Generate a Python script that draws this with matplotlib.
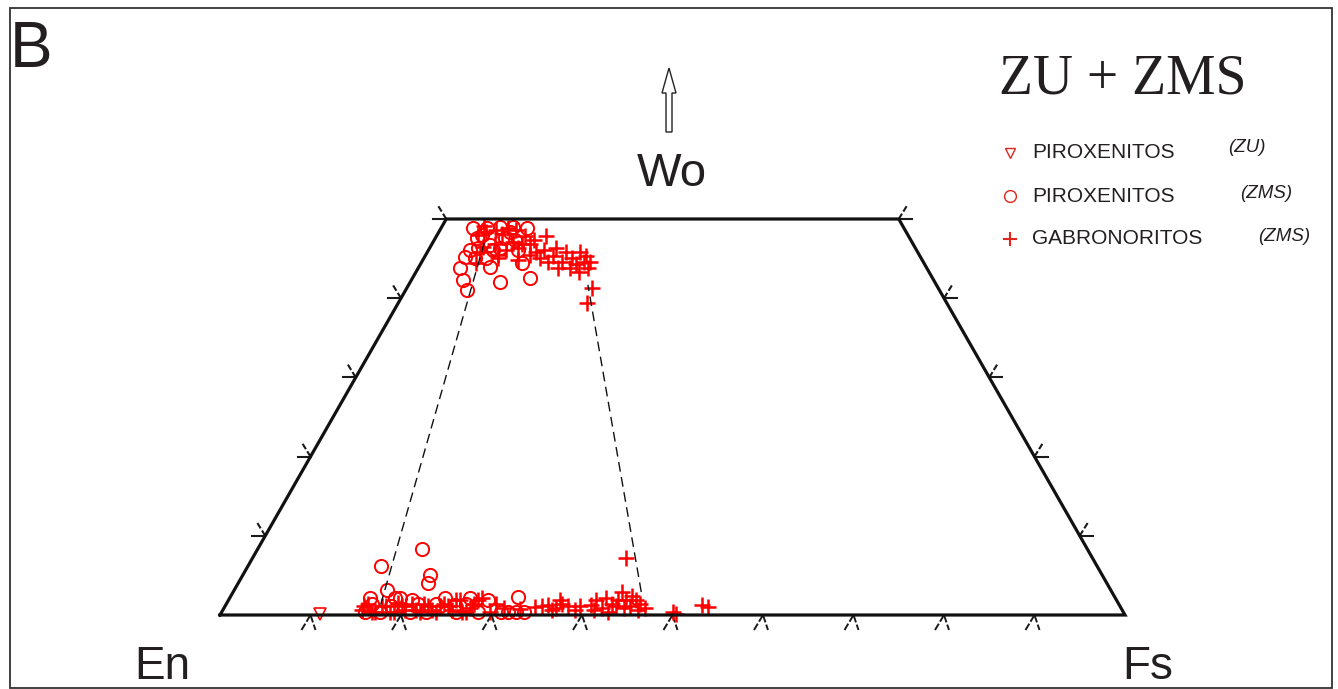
import matplotlib
matplotlib.use("Agg")
import matplotlib.pyplot as plt
from matplotlib.patches import Rectangle, Polygon
import numpy as np

# ---------------- data (Fs %, Wo %) ----------------
circ_fs = [3.5, 5.0, 6.4, 7.9, 9.5, 4.6, 5.0, 6.5, 7.1, 7.7, 9.0, 9.9, 4.6, 4.5, 5.6, 4.6, 5.7, 6.8,
           7.9, 9.9, 13.0, 11.2, 5.35, 7.8, 7.8, 6.85,
           14.7, 18.2, 20.7, 21.0, 16.8, 31.8,
           15.8, 16.1, 17.5, 18.4, 18.8, 20.8, 21.2, 22.6, 23.2, 23.8, 25.9, 26.5, 28.3, 30.8,
           31.6, 32.5, 33.4, 15.5, 18.3, 20.3, 25.3, 28.7, 26.6]
circ_wo = [48.9, 48.9, 49.0, 49.0, 48.9, 47.6, 48.0, 46.7, 46.1, 47.6, 47.3, 46.1, 46.1, 45.2, 45.1, 43.8, 42.3, 41.0,
           43.9, 42.0, 42.6, 44.4, 46.3, 46.3, 48.4, 45.1,
           6.2, 8.3, 5.1, 4.0, 3.2, 2.3,
           0.4, 1.4, 0.4, 1.1, 2.2, 0.4, 1.4, 0.4, 1.4, 2.2, 0.4, 1.4, 0.4, 0.4,
           0.4, 0.4, 0.4, 2.1, 2.1, 1.9, 1.3, 1.9, 2.1]

plus_fs = [4.5, 5.2, 6.9, 7.1, 7.4, 8.8, 9.8, 9.7, 10.9, 12.0, 12.1, 12.8, 14.1, 14.0, 15.5, 15.3, 16.4,
           17.2, 16.9, 17.9, 18.8, 18.6, 18.0, 20.5, 20.9, 5.8, 8.0, 6.0, 10.5, 11.5,
           4.6, 6.2, 8.4, 10.0, 11.05, 12.8, 13.9, 8.55, 8.2, 5.8, 15.4, 16.8, 17.8,
           15.4, 15.7, 16.9, 17.3, 18.6, 18.9, 20.1, 20.5, 21.9, 22.4, 23.7, 24.1, 25.3, 25.6, 27.0,
           27.4, 27.9, 29.6, 32.8, 34.3, 35.6, 36.7, 37.1, 37.9, 38.9, 40.3, 40.6, 41.8, 41.6, 42.6,
           43.0, 43.0, 43.9, 44.7, 45.0, 45.7, 46.5, 41.3, 49.8, 50.3, 52.6, 53.4,
           24.6, 25.1, 27.2, 27.6, 29.8, 30.9, 35.0, 36.4, 36.6, 39.2, 41.0, 42.7, 43.2, 44.2, 44.3,
           45.9, 15.4, 16.6, 17.8, 19.0, 19.6, 21.4, 21.8, 23.1, 23.8, 26.5]
plus_wo = [48.0, 48.4, 46.9, 48.1, 48.9, 47.1, 46.3, 47.9, 46.8, 45.8, 47.9, 46.1, 45.3, 46.3, 44.6, 45.8, 45.1,
           44.3, 45.8, 44.6, 43.8, 44.6, 43.3, 41.3, 39.4, 46.5, 45.5, 44.5, 44.8, 45.5,
           49.1, 48.6, 48.6, 46.8, 47.3, 45.1, 44.6, 46.1, 45.1, 45.8, 43.8, 43.8, 45.3,
           0.6, 1.4, 0.4, 1.1, 0.4, 1.5, 0.6, 1.4, 0.4, 1.1, 0.4, 1.4, 0.6, 1.9, 0.4,
           1.4, 2.2, 0.4, 0.8, 1.0, 1.3, 0.9, 1.4, 1.1, 0.6, 1.3, 1.9, 0.9, 2.2, 1.4,
           1.9, 2.9, 1.9, 1.1, 1.9, 1.4, 0.9, 7.2, 0.4, 0.1, 1.3, 1.0,
           1.1, 1.9, 0.9, 1.9, 1.4, 0.9, 1.1, 0.6, 1.9, 1.1, 0.6, 0.4, 1.1, 0.9, 2.4,
           0.6, 1.1, 0.4, 1.1, 0.4, 1.1, 0.6, 1.4, 0.6, 1.1, 0.4]

tri_fs = [11.0]
tri_wo = [0.1]

# tie lines (Fs, Wo) endpoints
tie_left_fs = [17.1, 5.6]
tie_left_wo = [1.3, 47.4]
tie_right_fs = [45.1, 19.8]
tie_right_wo = [2.9, 41.7]

tick_vals = [10, 20, 30, 40, 50, 60, 70, 80, 90]
side_ticks = [10, 20, 30, 40, 50]

legend_labels = ["PIROXENITOS", "PIROXENITOS", "GABRONORITOS"]
legend_groups = ["(ZU)", "(ZMS)", "(ZMS)"]

# ---------------- figure ----------------
W, H = 1338, 689
fig = plt.figure(figsize=(W / 100, H / 100), dpi=100)
ax = fig.add_axes([0, 0, 1, 1])
ax.set_axis_off()

SX, SY = 9.05, 7.92  # pixels per unit
X0, Y0 = 220, 615
ax.set_xlim(-X0 / SX, (W - X0) / SX)
ax.set_ylim(-(H - Y0) / SY, Y0 / SY)


def tern(fs, wo):
    fs = np.asarray(fs, float)
    wo = np.asarray(wo, float)
    return fs + wo / 2, wo


def px(dx_px, dy_px):
    """convert pixel offset (down positive) to data offset"""
    return dx_px / SX, -dy_px / SY


# quadrilateral
qx, qy = tern([0, 100, 50, 0, 0], [0, 0, 50, 50, 0])
ax.plot(qx, qy, color="#111111", lw=2.3, solid_joinstyle="miter", zorder=6)

tickc = "#1a1a1a"
# bottom ticks
for t in tick_vals:
    x, y = tern(t, 0)
    for dx in (-9, 5):
        ddx, ddy = px(dx, 15)
        ax.plot([x, x + ddx], [y, y + ddy], color=tickc, lw=1.4, ls=(0, (4, 1.2)), zorder=2)

# side ticks
for w in side_ticks:
    # left side
    x, y = tern(0, w)
    ddx, ddy = px(-13, 0)
    ax.plot([x, x + ddx], [y, y], color=tickc, lw=1.5, zorder=2)
    ddx, ddy = px(-8, -13)
    ax.plot([x, x + ddx], [y, y + ddy], color=tickc, lw=1.5, ls=(0, (3, 1.2)), zorder=2)
    # right side
    x, y = tern(100 - w, w)
    ddx, ddy = px(13, 0)
    ax.plot([x, x + ddx], [y, y], color=tickc, lw=1.5, zorder=2)
    ddx, ddy = px(8, -13)
    ax.plot([x, x + ddx], [y, y + ddy], color=tickc, lw=1.5, ls=(0, (3, 1.2)), zorder=2)

# tie lines
for fs, wo in ((tie_left_fs, tie_left_wo), (tie_right_fs, tie_right_wo)):
    x, y = tern(fs, wo)
    ax.plot(x, y, color="#111111", lw=1.0, ls=(0, (7, 4)), zorder=5)

# data points
red = "#ff0000"
x, y = tern(circ_fs, circ_wo)
ax.plot(x, y, ls="none", marker="o", ms=9.5, mfc="none", mec=red, mew=1.4, zorder=4)
x, y = tern(plus_fs, plus_wo)
ax.plot(x, y, ls="none", marker="+", ms=12, mec=red, mew=1.8, zorder=4)
x, y = tern(tri_fs, tri_wo)
ax.plot(x, y, ls="none", marker="v", ms=8, mfc="none", mec=red, mew=1.2, zorder=4)

# arrow (hollow) above Wo
ax_, ay_ = (669 - X0) / SX, (Y0 - 132) / SY
hl = 25 / SY
sw = 3 / SX
hw = 7 / SX
top = (Y0 - 68) / SY
verts = [(ax_ - sw, ay_), (ax_ + sw, ay_), (ax_ + sw, top - hl), (ax_ + hw, top - hl),
         (ax_, top), (ax_ - hw, top - hl), (ax_ - sw, top - hl)]
ax.add_patch(Polygon(verts, closed=True, fill=False, ec="#222222", lw=1.0, zorder=3))

# labels
sans = ["Liberation Sans", "DejaVu Sans"]
txtc = "#231f20"


def ftext(xp, yp, s, **kw):
    fig.text(xp / W, 1 - yp / H, s, **kw)


ftext(10, 50, "B", fontsize=46, family=sans, color=txtc, va="center", ha="left")
ftext(672, 174, "Wo", fontsize=34, family=sans, color=txtc, va="center", ha="center")
ftext(162, 667, "En", fontsize=33, family=sans, color=txtc, va="center", ha="center")
ftext(1148, 667, "Fs", fontsize=33, family=sans, color=txtc, va="center", ha="center")
ftext(1123, 80, "ZU + ZMS", fontsize=40, family=["Liberation Serif", "DejaVu Serif"],
      color=txtc, va="center", ha="center")

# legend
leg_y = [153, 196, 239]
leg_mk = [dict(marker="v", ms=7.5, mfc="none", mew=1.0),
          dict(marker="o", ms=8.5, mfc="none", mew=1.0),
          dict(marker="+", ms=10, mew=1.5)]
grp_x = [1228, 1240, 1258]
grp_dy = [-6, -3, -3]
for i in range(3):
    mx, my = (1010 - X0) / SX, (Y0 - leg_y[i]) / SY
    ax.plot([mx], [my], ls="none", mec="#e1251b", **leg_mk[i])
    ftext(1032, leg_y[i], legend_labels[i], fontsize=15, family=sans, color=txtc,
          va="center", ha="left")
    ftext(grp_x[i], leg_y[i] + grp_dy[i], legend_groups[i], fontsize=13.5, family=sans,
          style="italic", color=txtc, va="center", ha="left")

# frame
fig.patches.append(Rectangle((10 / W, 1 / H), 1322 / W, 680 / H, transform=fig.transFigure,
                             fill=False, ec="#333333", lw=1.3))

fig.savefig("out.png", dpi=100, facecolor="white")
